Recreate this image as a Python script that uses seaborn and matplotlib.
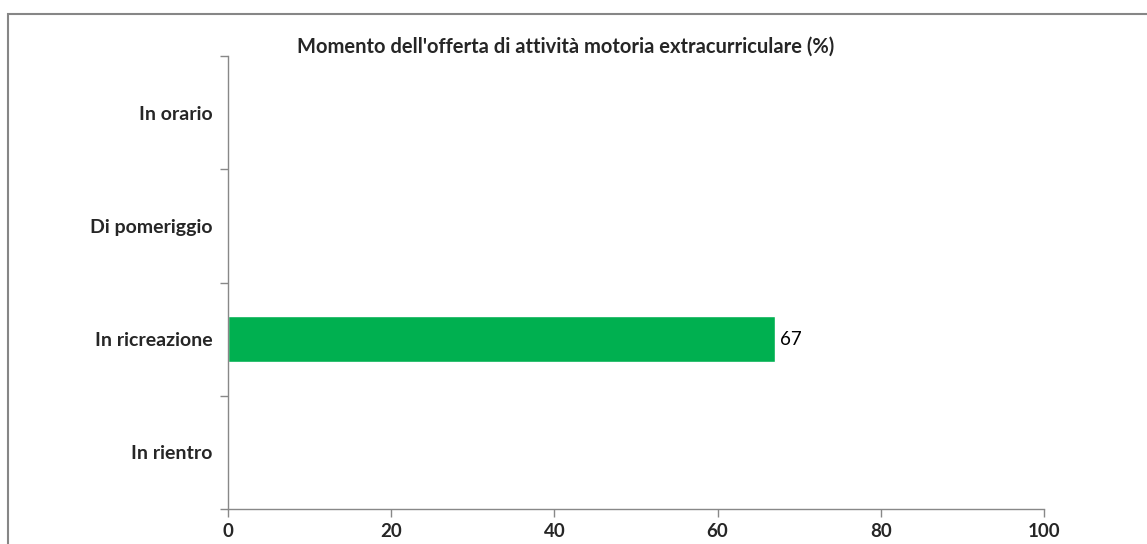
import pandas as pd
import seaborn as sns
import matplotlib.pyplot as plt
from matplotlib.patches import Rectangle

# data
categories = ['In orario', 'Di pomeriggio', 'In ricreazione', 'In rientro']
values = [0, 0, 67, 0]
xticks = [0, 20, 40, 60, 80, 100]

df = pd.DataFrame({'Momento': categories, 'Percentuale': values})

sns.set_theme(style='white')
plt.rcParams['font.family'] = ['Lato', 'DejaVu Sans']

fig = plt.figure(figsize=(11.47, 5.44), dpi=100)
ax = fig.add_axes([228/1147, 1 - 509/544, (1044 - 228)/1147, (509 - 56)/544])

sns.barplot(data=df, x='Percentuale', y='Momento', order=categories,
            color='#00B050', saturation=1, width=0.41, ax=ax)

# value label only where there is a bar
labels = [str(v) if v > 0 else '' for v in values]
ax.bar_label(ax.containers[0], labels=labels, padding=4, fontsize=13.5, color='black')

ax.set_xlim(0, 100)
ax.set_ylim(len(categories) - 0.5, -0.5)
ax.set_xticks(xticks)
ax.set_xticklabels([str(t) for t in xticks], fontweight='bold', fontsize=13.5)
ax.set_yticks(range(len(categories)))
ax.set_yticklabels(categories, fontweight='bold', fontsize=14)
ax.set_xlabel('')
ax.set_ylabel('')

# ticks at category boundaries on y, none at the labels
ax.set_yticks([i - 0.5 for i in range(len(categories) + 1)], minor=True)
ax.tick_params(axis='y', which='major', length=0, pad=11)
ax.tick_params(axis='y', which='minor', length=6, color='#888888', width=1, direction='out', left=True)
ax.tick_params(axis='x', which='major', length=6, color='#888888', width=1, direction='out', bottom=True, pad=4)

for side in ['top', 'right']:
    ax.spines[side].set_visible(False)
for side in ['left', 'bottom']:
    ax.spines[side].set_color('#888888')
    ax.spines[side].set_linewidth(1)

fig.text(566/1147, 1 - 47/544, "Momento dell'offerta di attività motoria extracurriculare (%)",
         ha='center', va='center', fontweight='bold', fontsize=14.5)

# chart area border like the original export
fig.patches.append(Rectangle((8/1147, -0.1), 1.1, 1 - 13.5/544 + 0.1, transform=fig.transFigure,
                             fill=False, edgecolor='#868686', linewidth=1.5, zorder=0))

fig.savefig('out.png', dpi=100)
